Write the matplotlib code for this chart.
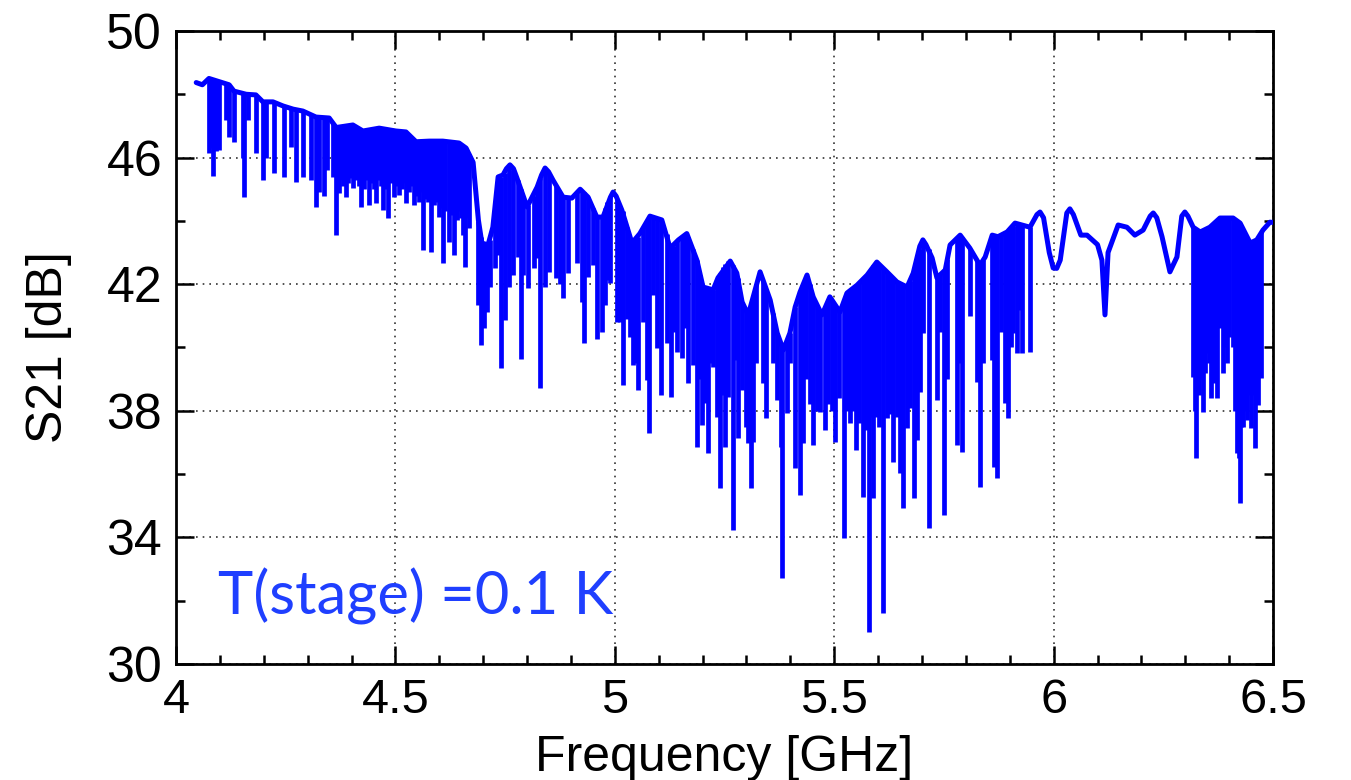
import numpy as np
import matplotlib
matplotlib.use("Agg")
import matplotlib.pyplot as plt
from matplotlib.ticker import MultipleLocator

# upper envelope of the S21 trace (GHz, dB)
env_ghz = [4.046, 4.060, 4.075, 4.098, 4.121, 4.132, 4.160, 4.182, 4.198, 4.221,
           4.244, 4.267, 4.289, 4.319, 4.349, 4.365, 4.403, 4.426, 4.463, 4.501,
           4.524, 4.547, 4.577, 4.608, 4.645, 4.661, 4.677, 4.689, 4.697, 4.711,
           4.722, 4.734, 4.745, 4.753, 4.761, 4.769, 4.777, 4.800, 4.823, 4.833,
           4.841, 4.849, 4.859, 4.882, 4.902, 4.921, 4.939, 4.959, 4.973, 4.990,
           4.996, 5.003, 5.016, 5.039, 5.057, 5.080, 5.107, 5.126, 5.145, 5.164,
           5.187, 5.201, 5.224, 5.235, 5.263, 5.278, 5.290, 5.304, 5.331, 5.354,
           5.370, 5.384, 5.399, 5.411, 5.422, 5.438, 5.452, 5.472, 5.490, 5.513,
           5.529, 5.552, 5.575, 5.597, 5.620, 5.643, 5.666, 5.680, 5.695, 5.702,
           5.709, 5.723, 5.734, 5.753, 5.764, 5.787, 5.809, 5.832, 5.844, 5.860,
           5.873, 5.894, 5.912, 5.928, 5.946, 5.962, 5.969, 5.977, 5.990, 5.999,
           6.007, 6.015, 6.030, 6.037, 6.045, 6.062, 6.076, 6.100, 6.110, 6.117,
           6.124, 6.147, 6.167, 6.185, 6.204, 6.220, 6.227, 6.235, 6.247, 6.265,
           6.281, 6.292, 6.299, 6.306, 6.318, 6.334, 6.356, 6.379, 6.409, 6.425,
           6.448, 6.463, 6.477, 6.493, 6.500]
env_db = [48.37, 48.30, 48.50, 48.40, 48.30, 48.10, 48.00, 47.98, 47.76, 47.76,
          47.63, 47.53, 47.47, 47.28, 47.25, 46.95, 47.03, 46.84, 46.93, 46.84,
          46.81, 46.50, 46.52, 46.52, 46.46, 46.30, 45.85, 44.03, 43.30, 43.24,
          43.80, 45.39, 45.45, 45.65, 45.77, 45.65, 45.35, 44.44, 45.07, 45.45,
          45.67, 45.55, 45.29, 44.75, 44.72, 45.00, 44.75, 44.12, 44.12, 44.75,
          44.91, 44.78, 44.34, 43.30, 43.60, 44.15, 44.03, 43.14, 43.40, 43.60,
          42.76, 41.91, 41.82, 42.20, 42.73, 42.35, 41.44, 41.03, 42.39, 41.50,
          40.46, 39.92, 40.46, 41.28, 41.75, 42.29, 41.60, 41.03, 41.60, 41.12,
          41.72, 41.97, 42.29, 42.70, 42.39, 42.07, 41.91, 42.35, 43.20, 43.40,
          43.25, 42.83, 42.20, 42.45, 43.24, 43.55, 43.14, 42.60, 42.86, 43.55,
          43.50, 43.65, 43.93, 43.87, 43.80, 44.20, 44.28, 44.10, 43.00, 42.51,
          42.50, 42.76, 44.25, 44.38, 44.20, 43.55, 43.55, 43.25, 42.76, 41.03,
          43.00, 43.87, 43.80, 43.55, 43.71, 44.15, 44.25, 44.10, 43.50, 42.39,
          42.86, 44.15, 44.28, 44.15, 43.80, 43.65, 43.80, 44.09, 44.09, 43.93,
          43.30, 43.40, 43.71, 43.96, 43.95]

# narrow resonance dips: frequency, top (on envelope) and bottom of each dip
dip_ghz = [4.075, 4.080, 4.085, 4.090, 4.098, 4.114, 4.121, 4.132, 4.153, 4.155,
           4.164, 4.182, 4.198, 4.205, 4.223, 4.246, 4.262, 4.273, 4.289, 4.308,
           4.319, 4.326, 4.337, 4.345, 4.357, 4.365, 4.371, 4.376, 4.381, 4.387,
           4.393, 4.398, 4.403, 4.410, 4.416, 4.422, 4.428, 4.434, 4.440, 4.446,
           4.451, 4.456, 4.462, 4.467, 4.472, 4.478, 4.483, 4.490, 4.497, 4.502,
           4.508, 4.514, 4.519, 4.524, 4.530, 4.536, 4.542, 4.548, 4.553, 4.558,
           4.563, 4.569, 4.575, 4.581, 4.587, 4.593, 4.599, 4.604, 4.608, 4.614,
           4.622, 4.627, 4.634, 4.640, 4.646, 4.650, 4.654, 4.659, 4.664, 4.668,
           4.689, 4.695, 4.702, 4.708, 4.715, 4.728, 4.734, 4.740, 4.750, 4.759,
           4.768, 4.779, 4.786, 4.791, 4.802, 4.815, 4.822, 4.830, 4.841, 4.850,
           4.867, 4.875, 4.882, 4.894, 4.913, 4.925, 4.930, 4.939, 4.950, 4.959,
           4.971, 4.978, 4.982, 4.989, 5.005, 5.012, 5.019, 5.027, 5.035, 5.041,
           5.046, 5.052, 5.064, 5.073, 5.078, 5.087, 5.096, 5.105, 5.118, 5.128,
           5.134, 5.141, 5.153, 5.160, 5.167, 5.178, 5.187, 5.193, 5.198, 5.206,
           5.212, 5.218, 5.224, 5.233, 5.240, 5.246, 5.251, 5.258, 5.269, 5.275,
           5.281, 5.290, 5.299, 5.304, 5.310, 5.315, 5.322, 5.338, 5.345, 5.360,
           5.370, 5.379, 5.381, 5.392, 5.399, 5.411, 5.422, 5.429, 5.436, 5.444,
           5.452, 5.460, 5.468, 5.479, 5.485, 5.494, 5.502, 5.510, 5.522, 5.530,
           5.537, 5.543, 5.549, 5.556, 5.566, 5.572, 5.579, 5.584, 5.589, 5.595,
           5.602, 5.611, 5.620, 5.627, 5.634, 5.642, 5.650, 5.657, 5.666, 5.673,
           5.682, 5.689, 5.696, 5.702, 5.716, 5.734, 5.742, 5.750, 5.757, 5.779,
           5.784, 5.791, 5.810, 5.825, 5.832, 5.840, 5.859, 5.865, 5.870, 5.880,
           5.889, 5.896, 5.903, 5.907, 5.916, 5.921, 5.928, 5.946, 6.318, 6.321,
           6.324, 6.328, 6.332, 6.336, 6.340, 6.344, 6.349, 6.353, 6.358, 6.365,
           6.368, 6.372, 6.379, 6.386, 6.390, 6.395, 6.400, 6.409, 6.414, 6.418,
           6.422, 6.425, 6.428, 6.432, 6.436, 6.441, 6.446, 6.450, 6.455, 6.459,
           6.466, 6.473]
dip_top = [48.50, 48.50, 48.45, 48.45, 48.40, 48.32, 48.30, 48.10, 48.00, 48.00,
           48.00, 47.98, 47.76, 47.76, 47.76, 47.63, 47.55, 47.50, 47.47, 47.36,
           47.28, 47.27, 47.26, 47.25, 47.10, 46.95, 46.96, 46.97, 46.98, 46.99,
           47.00, 47.02, 47.03, 46.98, 46.92, 46.86, 46.85, 46.87, 46.90, 46.92,
           46.93, 46.92, 46.93, 46.91, 46.89, 46.87, 46.86, 46.85, 46.84, 46.84,
           46.83, 46.82, 46.81, 46.81, 46.72, 46.62, 46.55, 46.50, 46.51, 46.52,
           46.52, 46.52, 46.52, 46.52, 46.52, 46.52, 46.52, 46.52, 46.52, 46.50,
           46.49, 46.48, 46.47, 46.46, 46.46, 46.40, 46.35, 46.30, 46.20, 46.10,
           44.00, 43.50, 43.28, 43.25, 43.40, 44.60, 45.39, 45.39, 45.50, 45.75,
           45.60, 45.30, 45.00, 44.80, 44.50, 44.80, 45.05, 45.35, 45.67, 45.50,
           45.10, 44.90, 44.75, 44.70, 44.95, 44.95, 44.90, 44.75, 44.40, 44.12,
           44.12, 44.40, 44.60, 44.75, 44.70, 44.45, 44.30, 43.80, 43.45, 43.30,
           43.40, 43.50, 43.80, 44.00, 44.10, 44.15, 44.10, 44.05, 43.60, 43.15,
           43.20, 43.35, 43.50, 43.60, 43.50, 43.10, 42.76, 42.30, 42.00, 41.90,
           41.88, 41.85, 41.82, 42.15, 42.35, 42.55, 42.65, 42.72, 42.60, 42.40,
           42.20, 41.44, 41.15, 41.03, 41.30, 41.60, 42.00, 42.10, 41.80, 41.10,
           40.46, 40.10, 40.00, 40.20, 40.46, 41.28, 41.75, 42.00, 42.25, 42.00,
           41.60, 41.35, 41.10, 41.30, 41.50, 41.50, 41.30, 41.15, 41.50, 41.75,
           41.85, 41.90, 41.95, 42.05, 42.20, 42.25, 42.35, 42.50, 42.60, 42.70,
           42.60, 42.50, 42.39, 42.30, 42.15, 42.07, 42.00, 41.95, 41.91, 42.10,
           42.40, 42.80, 43.10, 43.35, 43.10, 42.20, 42.30, 42.40, 42.80, 43.50,
           43.55, 43.50, 43.10, 42.75, 42.60, 42.75, 43.50, 43.50, 43.50, 43.55,
           43.60, 43.65, 43.80, 43.85, 43.92, 43.90, 43.87, 43.80, 43.80, 43.75,
           43.70, 43.68, 43.65, 43.66, 43.70, 43.72, 43.75, 43.78, 43.80, 43.90,
           43.95, 44.00, 44.09, 44.09, 44.09, 44.09, 44.09, 44.09, 44.05, 44.00,
           43.95, 43.93, 43.80, 43.70, 43.50, 43.40, 43.30, 43.30, 43.35, 43.40,
           43.50, 43.65]
dip_bottom = [46.15, 46.30, 45.42, 46.20, 46.24, 47.20, 46.65, 46.50, 45.98, 44.76,
              47.20, 46.15, 45.30, 45.98, 45.50, 45.39, 46.33, 45.23, 45.39, 45.30,
              44.44, 44.90, 44.80, 45.60, 45.40, 43.55, 44.88, 45.30, 45.10, 44.76,
              45.20, 45.35, 45.04, 45.30, 45.10, 44.44, 45.00, 45.30, 44.50, 45.20,
              45.00, 44.57, 45.30, 45.10, 44.34, 45.00, 44.09, 45.20, 44.76, 45.10,
              44.82, 45.00, 45.20, 44.57, 44.90, 45.10, 44.50, 44.80, 44.60, 44.90,
              43.08, 44.70, 44.60, 43.02, 44.50, 44.60, 44.12, 44.40, 42.67, 44.30,
              43.33, 44.20, 42.92, 44.03, 44.30, 44.10, 43.55, 42.54, 44.10, 43.78,
              41.34, 40.08, 40.62, 41.12, 41.91, 42.50, 42.92, 39.35, 40.87, 41.91,
              42.30, 42.86, 39.63, 42.29, 41.88, 42.50, 42.83, 38.72, 41.91, 42.40,
              42.20, 42.00, 41.56, 42.35, 42.67, 41.44, 40.14, 42.23, 42.60, 40.27,
              40.49, 41.34, 42.13, 42.04, 40.80, 40.81, 38.82, 40.90, 40.33, 39.45,
              39.50, 38.66, 40.80, 38.97, 37.30, 41.66, 39.98, 38.50, 40.14, 38.44,
              40.50, 39.86, 39.67, 40.60, 38.88, 39.45, 36.86, 39.00, 37.55, 38.24,
              36.67, 39.50, 39.38, 37.80, 35.56, 38.50, 36.86, 38.44, 34.23, 39.60,
              37.14, 38.66, 37.49, 36.98, 35.56, 37.01, 39.50, 38.88, 37.77, 39.50,
              38.34, 36.86, 32.72, 37.93, 39.50, 36.20, 35.34, 36.98, 39.00, 38.20,
              36.92, 38.00, 37.96, 37.39, 38.20, 38.00, 37.00, 38.40, 33.98, 38.00,
              37.60, 38.00, 36.76, 37.60, 35.28, 37.40, 31.00, 37.80, 35.24, 37.80,
              37.50, 31.60, 37.77, 37.90, 36.38, 37.80, 36.04, 34.93, 37.45, 38.10,
              35.24, 37.07, 38.60, 40.46, 34.30, 38.34, 40.50, 34.70, 39.00, 36.92,
              39.50, 36.70, 41.00, 38.90, 35.59, 39.50, 39.60, 36.23, 35.88, 40.50,
              38.24, 37.77, 40.00, 40.46, 39.83, 41.20, 39.83, 39.86, 39.07, 38.00,
              36.50, 39.50, 38.50, 39.00, 37.96, 39.20, 39.83, 39.50, 38.40, 38.88,
              39.50, 38.40, 40.62, 39.19, 40.00, 39.50, 40.33, 40.02, 38.00, 36.67,
              36.50, 35.09, 37.50, 37.49, 38.00, 37.70, 38.50, 37.45, 38.50, 36.83,
              38.18, 39.04]

x_ticks = [4, 4.5, 5, 5.5, 6, 6.5]
x_ticklabels = ["4", "4.5", "5", "5.5", "6", "6.5"]
y_ticks = [30, 34, 38, 42, 46, 50]

blue = "#0000ff"
plt.rcParams['font.family'] = ['Liberation Sans', 'DejaVu Sans']

fig = plt.figure(figsize=(13.51, 7.8), dpi=100)
ax = fig.add_axes([0.1303, 0.1487, 0.812, 0.8116])

ax.vlines(dip_ghz, dip_bottom, dip_top, color=blue, lw=3.4, zorder=3)
ax.plot(env_ghz, env_db, color=blue, lw=3.6, zorder=3,
        solid_joinstyle='round', solid_capstyle='round')

ax.set_xlim(4, 6.5)
ax.set_ylim(30, 50)
ax.set_xticks(x_ticks)
ax.set_xticklabels(x_ticklabels)
ax.set_yticks(y_ticks)
ax.xaxis.set_minor_locator(MultipleLocator(0.1))
ax.yaxis.set_minor_locator(MultipleLocator(2))
ax.tick_params(which='both', direction='in', top=True, right=True, width=1.8)
ax.tick_params(which='major', length=13, pad=10)
ax.tick_params(axis='x', which='major', labelsize=35)
ax.tick_params(axis='y', which='major', labelsize=36)
ax.tick_params(which='minor', length=6.5)
for s in ax.spines.values():
    s.set_linewidth(2)
ax.grid(True, which='major', ls=(0, (1, 3)), color='#333333', lw=1.2)
ax.set_axisbelow(True)

ax.set_xlabel("Frequency [GHz]", fontsize=36)
ax.xaxis.set_label_coords(0.5, -0.112)
ax.set_ylabel("S21 [dB]", fontsize=36)
ax.yaxis.set_label_coords(-0.095, 0.5)

ax.text(4.096, 31.55, "T(stage) =0.1 K", color="#1f3fff", fontsize=43,
        family=['Lato', 'DejaVu Sans'], va='baseline', ha='left')

fig.savefig("out.png", dpi=100)
